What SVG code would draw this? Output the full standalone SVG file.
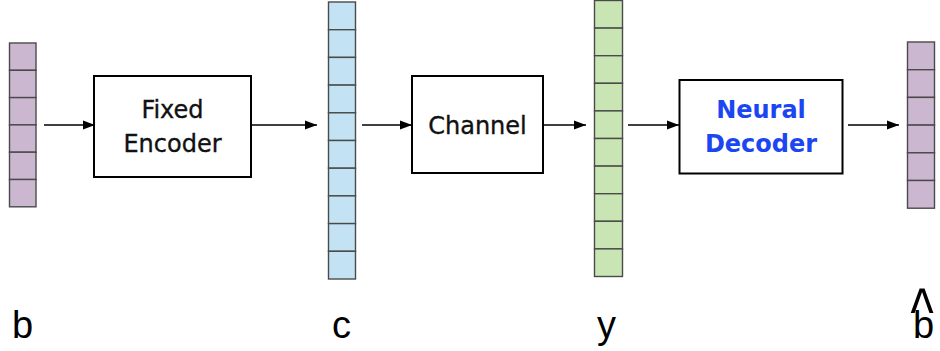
<svg xmlns="http://www.w3.org/2000/svg" width="940" height="351" viewBox="0 0 940 351">
  <style>
    .cell { stroke: #4a4a4a; stroke-width: 1.4; }
    .purple { fill: #cbb7cf; }
    .blue { fill: #c3e3f5; }
    .green { fill: #c9e5b4; }
    .box { fill: #ffffff; stroke: #000000; stroke-width: 2; }
    .boxtxt { font-family: "DejaVu Sans", Verdana, sans-serif; font-size: 24px; text-anchor: middle; fill: #111111; stroke: #111111; stroke-width: 0.35; }
    .neural { font-weight: bold; fill: #1c46f2; stroke: none; }
    .var { font-family: "Liberation Sans", Arial, sans-serif; font-size: 38px; fill: #000000; }
    .wire { stroke: #000000; stroke-width: 1.6; fill: none; marker-end: url(#head); }
  </style>
  <defs>
    <marker id="head" viewBox="0 0 12 10" refX="12" refY="5" markerWidth="12" markerHeight="10" markerUnits="userSpaceOnUse" orient="auto">
      <path d="M0,0.5 L12,5 L0,9.5 Z" fill="#000000"/>
    </marker>
  </defs>

  <!-- message bits b -->
  <g id="vec-b">
    <g class="cell purple">
      <rect x="9.5" y="43" width="26.5" height="27.3"/>
      <rect x="9.5" y="70.3" width="26.5" height="27.3"/>
      <rect x="9.5" y="97.6" width="26.5" height="27.3"/>
      <rect x="9.5" y="124.9" width="26.5" height="27.3"/>
      <rect x="9.5" y="152.2" width="26.5" height="27.3"/>
      <rect x="9.5" y="179.5" width="26.5" height="27.3"/>
    </g>
    <text class="var" x="12" y="338">b</text>
  </g>

  <!-- fixed encoder -->
  <g id="fixed-encoder">
    <rect class="box" x="94" y="76" width="157" height="101"/>
    <text class="boxtxt" x="172.5" y="118">Fixed</text>
    <text class="boxtxt" x="172.5" y="151.5">Encoder</text>
  </g>

  <!-- codeword c -->
  <g id="vec-c">
    <g class="cell blue">
      <rect x="328.5" y="2" width="27" height="27.7"/>
      <rect x="328.5" y="29.7" width="27" height="27.7"/>
      <rect x="328.5" y="57.4" width="27" height="27.7"/>
      <rect x="328.5" y="85.1" width="27" height="27.7"/>
      <rect x="328.5" y="112.8" width="27" height="27.7"/>
      <rect x="328.5" y="140.5" width="27" height="27.7"/>
      <rect x="328.5" y="168.2" width="27" height="27.7"/>
      <rect x="328.5" y="195.9" width="27" height="27.7"/>
      <rect x="328.5" y="223.6" width="27" height="27.7"/>
      <rect x="328.5" y="251.3" width="27" height="27.7"/>
    </g>
    <text class="var" x="332" y="338">c</text>
  </g>

  <!-- channel -->
  <g id="channel">
    <rect class="box" x="412" y="76" width="131" height="97"/>
    <text class="boxtxt" x="477.5" y="134">Channel</text>
  </g>

  <!-- received y -->
  <g id="vec-y">
    <g class="cell green">
      <rect x="594.5" y="0.5" width="28" height="27.6"/>
      <rect x="594.5" y="28.1" width="28" height="27.6"/>
      <rect x="594.5" y="55.7" width="28" height="27.6"/>
      <rect x="594.5" y="83.3" width="28" height="27.6"/>
      <rect x="594.5" y="110.9" width="28" height="27.6"/>
      <rect x="594.5" y="138.5" width="28" height="27.6"/>
      <rect x="594.5" y="166.1" width="28" height="27.6"/>
      <rect x="594.5" y="193.7" width="28" height="27.6"/>
      <rect x="594.5" y="221.3" width="28" height="27.6"/>
      <rect x="594.5" y="248.9" width="28" height="27.6"/>
    </g>
    <text class="var" x="597" y="338">y</text>
  </g>

  <!-- neural decoder -->
  <g id="neural-decoder">
    <rect class="box" x="679.5" y="80" width="163" height="93.5"/>
    <text class="boxtxt neural" x="761" y="118">Neural</text>
    <text class="boxtxt neural" x="761" y="151.5">Decoder</text>
  </g>

  <!-- estimate b-hat: b with a tall caret stretched above it -->
  <g id="vec-bhat">
    <g class="cell purple">
      <rect x="907.5" y="42" width="27" height="27.7"/>
      <rect x="907.5" y="69.7" width="27" height="27.7"/>
      <rect x="907.5" y="97.4" width="27" height="27.7"/>
      <rect x="907.5" y="125.1" width="27" height="27.7"/>
      <rect x="907.5" y="152.8" width="27" height="27.7"/>
      <rect x="907.5" y="180.5" width="27" height="27.7"/>
    </g>
    <text class="var" x="913" y="338">b</text>
    <text class="var" transform="translate(910.5 336) scale(1.3 1.8)" x="0" y="0">^</text>
  </g>

  <!-- connectors -->
  <g id="connectors">
    <line class="wire" x1="44" y1="125" x2="95" y2="125"/>
    <line class="wire" x1="252" y1="125" x2="317" y2="125"/>
    <line class="wire" x1="362" y1="125" x2="412" y2="125"/>
    <line class="wire" x1="544" y1="125" x2="586" y2="125"/>
    <line class="wire" x1="628" y1="125" x2="679" y2="125"/>
    <line class="wire" x1="848" y1="125" x2="899" y2="125"/>
  </g>
</svg>
